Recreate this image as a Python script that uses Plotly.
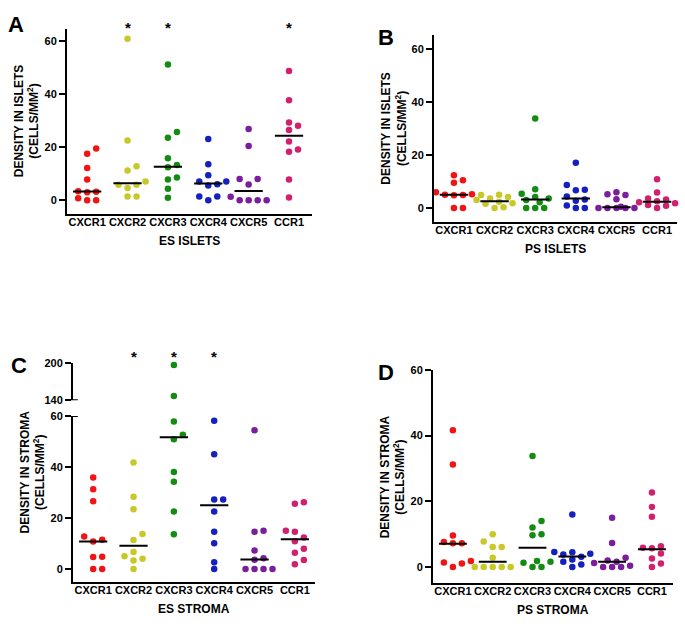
import plotly.graph_objects as go

W, H = 685, 629

categories = ["CXCR1", "CXCR2", "CXCR3", "CXCR4", "CXCR5", "CCR1"]
colors = ["#f01414", "#c8c828", "#148c14", "#1420c0", "#7a1e9e", "#d0206e"]

# values, one list per chemokine receptor
es_islets = [
    [19.5, 17.5, 12.1, 7.8, 3.4, 3.2, 3.0, 0.7, 0, 0],
    [61, 22.5, 12.8, 11.2, 7.0, 5.8, 5.8, 4.6, 1.4, 1.4],
    [51.2, 25.7, 23.6, 15.8, 13.3, 12.4, 8.6, 7.8, 4.3, 0.9],
    [23.1, 13.6, 9.4, 7.0, 7.0, 6.0, 5.5, 1.4, 1.4, 0],
    [26.9, 20.5, 8.0, 8.0, 5.9, 1.3, 0, 0, 0, 0],
    [48.8, 37.7, 29.3, 28.1, 26.5, 22.2, 19.1, 18.3, 7.8, 1.0],
]
es_islets_median = [3.3, 6.4, 12.6, 6.3, 3.5, 24.3]

ps_islets = [
    [12.4, 10.5, 9.6, 6.0, 5.2, 5.0, 4.9, 4.8, 0, 0],
    [5.0, 4.9, 4.2, 3.6, 3.0, 2.4, 1.8, 1.6, 0.3, 0],
    [33.8, 7.1, 5.4, 4.2, 3.6, 3.0, 2.2, 0, 0, 0],
    [17.1, 8.7, 6.9, 6.7, 4.4, 3.2, 2.8, 1.0, 0, 0],
    [6.0, 5.2, 4.9, 3.3, 0.5, 0, 0, 0, 0, 0],
    [10.9, 5.9, 3.6, 3.2, 2.6, 2.2, 1.8, 1.2, 0.9, 0],
]
ps_islets_median = [5.0, 2.6, 3.2, 3.6, 0.3, 2.4]

es_stroma = [
    [35.9, 31.3, 26.6, 12.8, 11.5, 10.8, 4.8, 4.7, 0, 0],
    [41.8, 28.3, 23.4, 13.7, 11.4, 6.7, 5.0, 4.0, 3.3, 0],
    [196.8, 146.8, 57.8, 52.6, 50.9, 38.0, 34.2, 22.6, 13.6],
    [58.1, 45.0, 27.3, 27.3, 22.6, 14.6, 10.1, 2.7, 0],
    [54.4, 15.0, 14.6, 7.3, 4.2, 3.6, 0, 0, 0, 0],
    [26.2, 25.6, 15.0, 14.6, 12.4, 10.9, 8.0, 6.4, 3.5, 1.9],
]
es_stroma_median = [10.8, 9.1, 51.7, 25.0, 3.7, 11.7]

ps_stroma = [
    [41.6, 31.2, 9.6, 7.6, 7.2, 7.2, 1.8, 1.4, 1.1, 0],
    [10.0, 7.8, 6.1, 6.1, 2.8, 0, 0, 0, 0, 0],
    [33.8, 14.0, 12.0, 10.0, 9.7, 1.8, 1.6, 1.3, 0, 0],
    [16.0, 4.6, 4.5, 4.0, 3.8, 3.1, 2.3, 1.6, 0.8, 0],
    [15.0, 7.3, 2.8, 2.0, 1.6, 1.2, 0.4, 0, 0, 0],
    [22.7, 18.3, 15.3, 6.3, 5.9, 5.7, 4.1, 2.6, 1.1, 0],
]
ps_stroma_median = [7.1, 1.6, 5.9, 3.2, 1.6, 5.4]

# panel geometry: (x domain, x range, y domain, y range)
pA = dict(xd=[0.0978, 0.4555], xr=[-0.5, 5.57], yd=[0.663, 0.9634], yr=[-5.2, 64.8])
pB = dict(xd=[0.6336, 0.9883], xr=[-0.49, 5.49], yd=[0.6502, 0.9523], yr=[-5.2, 65.2])
pC = dict(xd=[0.1066, 0.4599], xr=[-0.5, 5.5], yd=[0.0668, 0.3355], yr=[-5, 60])
pCtop = dict(yd=[0.3609, 0.4213], yr=[140, 200])
pD = dict(xd=[0.6321, 0.9825], xr=[-0.5, 5.53], yd=[0.0652, 0.4102], yr=[-4.8, 60])


def px_per(dom, rng, size):
    return (dom[1] - dom[0]) * size / (rng[1] - rng[0])


def swarm(vals, ppu):
    # prism-like spreading of points that would overlap
    cands = [0, 9, -9, 4.5, -4.5, 13.5, -13.5, 18, -18]
    placed = []
    offs = [0] * len(vals)
    for i in sorted(range(len(vals)), key=lambda k: vals[k]):
        y = vals[i] * ppu
        best, bestd = None, -1
        for c in cands:
            d = min([((c - px) ** 2 + (y - py) ** 2) ** 0.5 for px, py in placed] + [999])
            if d >= 7:
                best = c
                break
            if d > bestd + 0.01:
                best, bestd = c, d
        placed.append((best, y))
        offs[i] = best
    return offs


fig = go.Figure()


def add_panel(data, med, p, xa, ya, ya_top=None, ptop=None):
    ppc = px_per(p["xd"], p["xr"], W)
    ppu = px_per(p["yd"], p["yr"], H)
    for i, vals in enumerate(data):
        offs = swarm(vals, ppu)
        lo = [(i + o / ppc, v) for o, v in zip(offs, vals) if v <= p["yr"][1]]
        fig.add_trace(go.Scatter(x=[a for a, b in lo], y=[b for a, b in lo], mode="markers",
                                 marker=dict(color=colors[i], size=6.5, line_width=0),
                                 xaxis=xa, yaxis=ya, showlegend=False, cliponaxis=False))
        if ya_top:
            ppu_t = px_per(ptop["yd"], ptop["yr"], H)
            hi_vals = [v for v in vals if v >= ptop["yr"][0]]
            offs_t = swarm(hi_vals, ppu_t)
            fig.add_trace(go.Scatter(x=[i + o / ppc for o in offs_t], y=hi_vals, mode="markers",
                                     marker=dict(color=colors[i], size=6.5, line_width=0),
                                     xaxis=xa, yaxis=ya_top, showlegend=False, cliponaxis=False))
    mx, my = [], []
    for i, m in enumerate(med):
        mx += [i - 0.35, i + 0.35, None]
        my += [m, m, None]
    fig.add_trace(go.Scatter(x=mx, y=my, mode="lines", line=dict(color="black", width=2),
                             xaxis=xa, yaxis=ya, showlegend=False))


add_panel(es_islets, es_islets_median, pA, "x", "y")
add_panel(ps_islets, ps_islets_median, pB, "x2", "y2")
add_panel(es_stroma, es_stroma_median, pC, "x3", "y3", "y5", pCtop)
add_panel(ps_stroma, ps_stroma_median, pD, "x4", "y4")

FAM = "Liberation Sans, Arial, sans-serif"
tickf = dict(family=FAM, size=11, color="black")
xcommon = dict(tickmode="array", tickvals=list(range(6)), ticktext=[f"<b>{c}</b>" for c in categories],
               ticks="", showline=True, linecolor="black", linewidth=2, showgrid=False,
               zeroline=False, tickfont=tickf, ticklabelstandoff=-3, fixedrange=True)
ycommon = dict(ticks="outside", ticklen=6, tickwidth=2, tickcolor="black", showline=True,
               linecolor="black", linewidth=2, showgrid=False, zeroline=False, tickfont=tickf,
               fixedrange=True)


def yt(vals):
    return dict(tickmode="array", tickvals=vals, ticktext=[f"<b>{v}</b>" for v in vals])


layout = dict(
    width=W, height=H, margin=dict(l=0, r=0, t=0, b=0),
    paper_bgcolor="white", plot_bgcolor="white", showlegend=False,
    xaxis=dict(domain=pA["xd"], range=pA["xr"], anchor="y", **xcommon),
    yaxis=dict(domain=pA["yd"], range=pA["yr"], anchor="x", **yt([0, 20, 40, 60]), **ycommon),
    xaxis2=dict(domain=pB["xd"], range=pB["xr"], anchor="y2", **xcommon),
    yaxis2=dict(domain=pB["yd"], range=pB["yr"], anchor="x2", **yt([0, 20, 40, 60]), **ycommon),
    xaxis3=dict(domain=pC["xd"], range=pC["xr"], anchor="y3", **xcommon),
    yaxis3=dict(domain=pC["yd"], range=pC["yr"], anchor="x3", **yt([0, 20, 40, 60]), **ycommon),
    yaxis5=dict(domain=pCtop["yd"], range=pCtop["yr"], anchor="x3", **yt([140, 200]), **ycommon),
    xaxis4=dict(domain=pD["xd"], range=pD["xr"], anchor="y4", **xcommon),
    yaxis4=dict(domain=pD["yd"], range=pD["yr"], anchor="x4", **yt([0, 20, 40, 60]), **ycommon),
)
fig.update_layout(**layout)

# small cross bars where the axis of panel C is broken
for yref, yv in [("y5", 140), ("y3", 60)]:
    fig.add_shape(type="line", xref="x3 domain", yref=yref, x0=-0.025, x1=0.02, y0=yv, y1=yv,
                  line=dict(color="black", width=2))

ann = []
title_font = dict(family=FAM, size=12, color="black")
letter_font = dict(family=FAM, size=22, color="black")
star_font = dict(family=FAM, size=15, color="black")

panels = [
    ("A", pA, pA["yd"], "ES ISLETS", "DENSITY IN ISLETS", (15.5, 19), "x", [1, 2, 5], 22),
    ("B", pB, pB["yd"], "PS ISLETS", "DENSITY IN ISLETS", (386, 32), "x2", [], 0),
    ("C", pC, [pC["yd"][0], pCtop["yd"][1]], "ES STROMA", "DENSITY IN STROMA", (18.5, 367), "x3", [1, 2, 3], 357),
    ("D", pD, pD["yd"], "PS STROMA", "DENSITY IN STROMA", (386, 374), "x4", [], 0),
]
for letter, p, ydom, xt, ytl, lpos, xa, stars, star_y in panels:
    xc = (p["xd"][0] + p["xd"][1]) / 2
    ymid = (ydom[0] + ydom[1]) / 2
    ann.append(dict(text=f"<b>{letter}</b>", x=lpos[0] / W, y=1 - lpos[1] / H, xref="paper",
                    yref="paper", showarrow=False, font=letter_font, xanchor="center", yanchor="middle"))
    ann.append(dict(text=f"<b>{xt}</b>", x=xc, y=p["yd"][0] - 28 / H, xref="paper", yref="paper",
                    showarrow=False, font=title_font, xanchor="center", yanchor="middle"))
    ann.append(dict(text=f"<b>{ytl}</b><br><b>(CELLS/MM<sup>2</sup>)</b>", x=p["xd"][0] - 40 / W,
                    y=ymid, xref="paper", yref="paper", showarrow=False, font=title_font,
                    textangle=-90, xanchor="center", yanchor="middle"))
    for s in stars:
        ann.append(dict(text="<b>*</b>", x=s, y=1 - star_y / H, xref=xa, yref="paper",
                        showarrow=False, font=star_font, xanchor="center", yanchor="middle"))
fig.update_layout(annotations=ann)

fig.write_html("out.html", config={"displayModeBar": False},
               post_script="document.body.style.margin='0';")
